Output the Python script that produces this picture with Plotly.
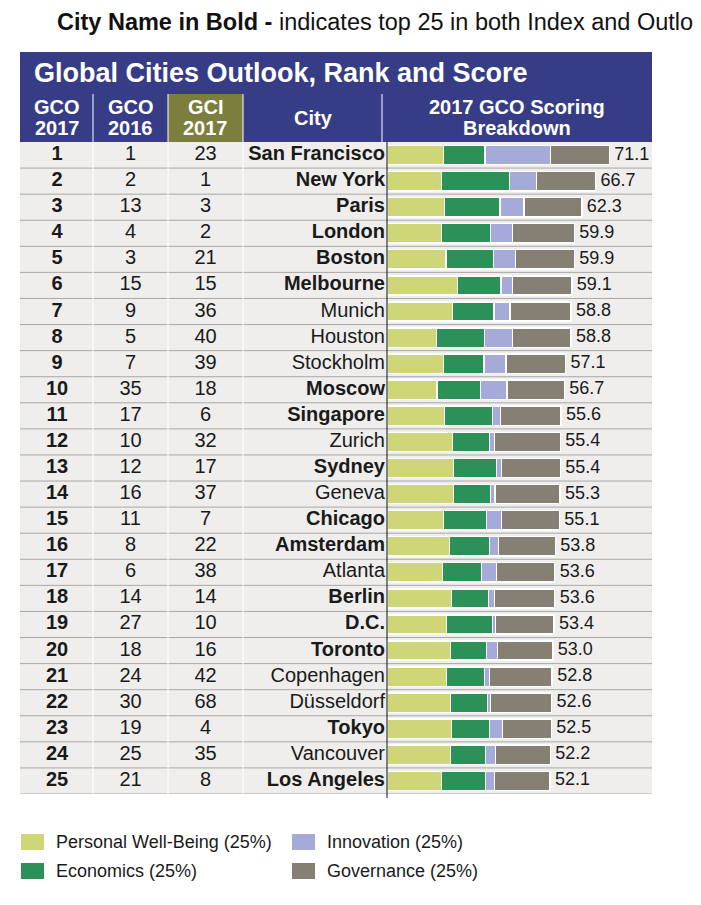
import plotly.graph_objects as go

# ---- data ----
cities = ["San Francisco", "New York", "Paris", "London", "Boston", "Melbourne",
          "Munich", "Houston", "Stockholm", "Moscow", "Singapore", "Zurich",
          "Sydney", "Geneva", "Chicago", "Amsterdam", "Atlanta", "Berlin",
          "D.C.", "Toronto", "Copenhagen", "Düsseldorf", "Tokyo", "Vancouver",
          "Los Angeles"]
bold_cities = ["San Francisco", "New York", "Paris", "London", "Boston", "Melbourne",
               "Moscow", "Singapore", "Sydney", "Chicago", "Amsterdam", "Berlin",
               "D.C.", "Toronto", "Tokyo", "Los Angeles"]
gco_2017 = list(range(1, 26))
gco_2016 = [1, 2, 13, 4, 3, 15, 9, 5, 7, 35, 17, 10, 12, 16, 11, 8, 6, 14, 27, 18,
            24, 30, 19, 25, 21]
gci_2017 = [23, 1, 3, 2, 21, 15, 36, 40, 39, 18, 6, 32, 17, 37, 7, 22, 38, 14, 10, 16,
            42, 68, 4, 35, 8]

well_being = [17.9, 17.3, 18.2, 17.3, 18.7, 22.4, 20.8, 15.7, 17.9, 15.8, 18.3, 20.8,
              21.2, 21.2, 17.9, 19.9, 17.6, 20.5, 18.9, 20.2, 18.9, 20.2, 20.5, 20.2, 17.3]
economics = [13.3, 21.8, 17.9, 15.7, 15.3, 14.0, 13.3, 15.4, 13.1, 14.0, 15.4, 11.9,
             13.8, 11.9, 13.8, 12.8, 12.5, 11.9, 14.7, 11.5, 12.2, 11.9, 12.2, 11.2, 14.1]
innovation = [21.0, 8.6, 7.7, 7.0, 7.0, 3.6, 5.2, 9.0, 7.0, 8.5, 2.6, 1.6,
              1.6, 1.3, 4.8, 2.9, 4.8, 1.9, 1.0, 3.5, 1.6, 1.0, 4.2, 3.2, 2.9]
governance = [18.9, 19.0, 18.5, 19.9, 18.9, 19.1, 19.5, 18.7, 19.1, 18.4, 19.3, 21.1,
              18.8, 20.9, 18.6, 18.2, 18.7, 19.3, 18.8, 17.8, 20.1, 19.5, 15.6, 17.6, 17.8]
totals = [71.1, 66.7, 62.3, 59.9, 59.9, 59.1, 58.8, 58.8, 57.1, 56.7, 55.6, 55.4,
          55.4, 55.3, 55.1, 53.8, 53.6, 53.6, 53.4, 53.0, 52.8, 52.6, 52.5, 52.2, 52.1]

components = ["Personal Well-Being (25%)", "Economics (25%)",
              "Innovation (25%)", "Governance (25%)"]
comp_colors = ["#cfd677", "#2b9158", "#a6aad8", "#858073"]

# the page puts the figure 8px in from the top-left corner
OFF = 8
W, H = 701 - OFF, 905 - OFF
FONT = "Liberation Sans, Arial, sans-serif"
BLUE = "#363d86"
OLIVE = "#7b7e3c"


def px(x):
    return (x - OFF) / W


def py(y):
    return 1 - (y - OFF) / H


TOP, BOT = 142, 794  # table body, in window pixels

fig = go.Figure()

# stacked score bars
for name, vals, col in zip(components, [well_being, economics, innovation, governance], comp_colors):
    fig.add_trace(go.Bar(
        x=vals, y=cities, orientation="h", name=name, width=0.74,
        marker=dict(color=col, line=dict(color="white", width=1.5)),
        showlegend=False, hoverinfo="x+name"
    ))

# totals at bar ends
fig.add_trace(go.Scatter(
    x=totals, y=cities, mode="text", text=[f" {t:.1f}" for t in totals],
    textposition="middle right", textfont=dict(family=FONT, size=18, color="#1a1a1a"),
    showlegend=False, hoverinfo="skip", cliponaxis=False
))

# table columns (on a pixel-scaled helper axis)
col_text = dict(family=FONT, size=20, color="#1a1a1a")
fig.add_trace(go.Scatter(
    x=[57] * len(cities), y=cities, mode="text", xaxis="x2",
    text=[f"<b>{v}</b>" for v in gco_2017], textfont=col_text,
    showlegend=False, hoverinfo="skip", cliponaxis=False
))
fig.add_trace(go.Scatter(
    x=[130.5] * len(cities), y=cities, mode="text", xaxis="x2",
    text=[str(v) for v in gco_2016], textfont=col_text,
    showlegend=False, hoverinfo="skip", cliponaxis=False
))
fig.add_trace(go.Scatter(
    x=[205.5] * len(cities), y=cities, mode="text", xaxis="x2",
    text=[str(v) for v in gci_2017], textfont=col_text,
    showlegend=False, hoverinfo="skip", cliponaxis=False
))
fig.add_trace(go.Scatter(
    x=[385] * len(cities), y=cities, mode="text", xaxis="x2",
    text=[f"<b>{c}</b>" if c in bold_cities else c for c in cities],
    textposition="middle left", textfont=col_text,
    showlegend=False, hoverinfo="skip", cliponaxis=False
))

shapes = []
# body background
shapes.append(dict(type="rect", xref="paper", yref="paper", layer="below",
                   x0=px(20), x1=px(652), y0=py(BOT), y1=py(TOP),
                   fillcolor="#efeeed", line_width=0))
# row separators
for i in range(len(cities)):
    shapes.append(dict(type="line", xref="paper", yref="y", layer="below",
                       x0=px(20), x1=px(652), y0=i + 0.5, y1=i + 0.5,
                       line=dict(color="#a8a8a8", width=1)))
# faint column separators in body
for xc in [93, 168, 243]:
    shapes.append(dict(type="line", xref="paper", yref="paper", layer="below",
                       x0=px(xc), x1=px(xc), y0=py(BOT), y1=py(TOP),
                       line=dict(color="white", width=1)))
# header band
shapes.append(dict(type="rect", xref="paper", yref="paper",
                   x0=px(20), x1=px(652), y0=py(TOP), y1=py(52),
                   fillcolor=BLUE, line_width=0))
shapes.append(dict(type="rect", xref="paper", yref="paper",
                   x0=px(168), x1=px(243), y0=py(TOP), y1=py(94),
                   fillcolor=OLIVE, line_width=0))
for xc in [93, 168, 243, 382]:
    shapes.append(dict(type="line", xref="paper", yref="paper",
                       x0=px(xc), x1=px(xc), y0=py(TOP), y1=py(94),
                       line=dict(color="white", width=1)))
# bar axis line
shapes.append(dict(type="line", xref="paper", yref="paper",
                   x0=px(387), x1=px(387), y0=py(798), y1=py(TOP),
                   line=dict(color="#111111", width=1)))

annotations = []


def note(x, y, text, size, color="#1a1a1a", xanchor="center"):
    annotations.append(dict(x=px(x), y=py(y), xref="paper", yref="paper", text=text,
                            showarrow=False, xanchor=xanchor, yanchor="middle",
                            font=dict(family=FONT, size=size, color=color)))


note(55, 22, "<b>City Name in Bold -</b> indicates top 25 in both Index and Outlook",
     23.5, "#111111", "left")
note(32, 73, "<b>Global Cities Outlook, Rank and Score</b>", 27, "white", "left")
for xc, l1, l2 in [(57, "GCO", "2017"), (130.5, "GCO", "2016"), (205.5, "GCI", "2017"),
                   (517, "2017 GCO Scoring", "Breakdown")]:
    note(xc, 107, f"<b>{l1}</b>", 20, "white")
    note(xc, 128, f"<b>{l2}</b>", 20, "white")
note(313, 118, "<b>City</b>", 20, "white")

# legend
leg_pos = [(21, 842), (21, 871), (292, 842), (292, 871)]
for (lx, ly), name, col in zip(leg_pos, components, comp_colors):
    shapes.append(dict(type="rect", xref="paper", yref="paper",
                       x0=px(lx), x1=px(lx + 23), y0=py(ly + 8), y1=py(ly - 8),
                       fillcolor=col, line_width=0))
    note(lx + 33, ly, name, 18, "#1a1a1a", "left")

fig.update_layout(
    width=W, height=H,
    margin=dict(l=0, r=0, t=0, b=0),
    paper_bgcolor="white", plot_bgcolor="rgba(0,0,0,0)",
    barmode="stack", bargap=0.26,
    font=dict(family=FONT, color="#1a1a1a"),
    xaxis=dict(domain=[px(387.5), px(652)], range=[0, 84.8], visible=False,
               fixedrange=True),
    xaxis2=dict(domain=[0, 1], range=[OFF, OFF + W], visible=False, anchor="y",
                fixedrange=True),
    yaxis=dict(domain=[py(BOT), py(TOP)], type="category", categoryarray=cities,
               range=[len(cities) - 0.5, -0.5], visible=False, fixedrange=True),
    shapes=shapes, annotations=annotations,
    showlegend=False,
)

fig.write_html("out.html")
